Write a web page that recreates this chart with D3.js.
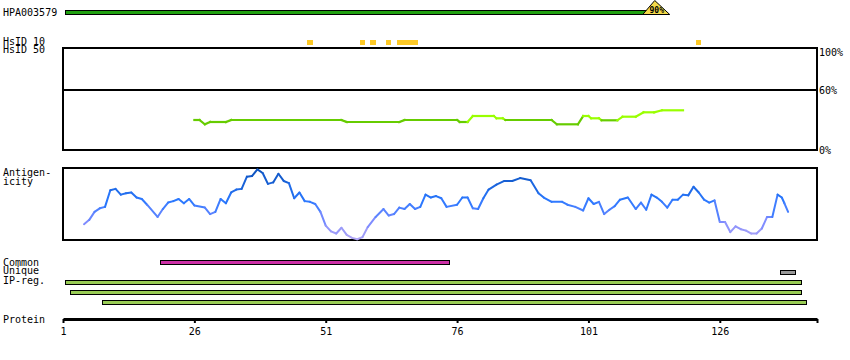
<!DOCTYPE html>
<html>
<head>
<meta charset="utf-8">
<script src="https://cdn.jsdelivr.net/npm/d3@7"></script>
<style>
  body { margin: 0; background: #fff; }
  svg text { font-family: "DejaVu Sans Mono", monospace; font-size: 10px; fill: #000; }
</style>
</head>
<body>
<div id="chart"></div>
<script>
// ---- data ----
const proteinLength = 144;
const antibodyName = 'HPA003579';
const antibodyRange = [2, 114];
const antibodyScore = '90%';

const hsid10 = [48, 58, 60, 63, 65, 66, 67, 68, 122];

// sequence identity (%) along the protein
const identityPos = [26, 27, 28, 29, 32, 33, 54, 55, 65, 66, 76, 76.5, 78, 79, 83, 83.5, 84.7, 85.2,
    94, 95, 99, 100, 101, 101.5, 103, 103.5, 106.5, 107.5, 110, 111.5, 113.5, 115, 119];
const identityVal = [30, 30, 25.7, 28, 28, 30, 30, 28, 28, 30, 30, 28, 28, 34, 34, 31.7, 31.7, 30,
    30, 25.7, 25.7, 34, 34, 31.7, 31.7, 29.7, 29.7, 33.3, 33.3, 37.7, 37.7, 39.7, 39.7];
const identityTicks = [100, 60, 0];

// antigenicity score (0..1)
const antigenPos = [5, 6, 7, 8, 9, 10, 11, 12, 13, 14, 15, 16, 17, 19, 20, 21, 22, 23, 24, 25, 26, 28, 29, 30,
    31, 32, 33, 34, 35, 36, 37, 38, 39, 40, 41, 42, 43, 44, 45, 46, 47, 48, 49, 50, 51, 52, 53, 54, 55,
    56, 57, 58, 59, 60.5, 62, 63, 64, 65, 66, 67, 68, 69, 70, 71, 72, 73, 74, 76, 77, 78, 79, 80, 81, 82,
    83.5, 85, 86.5, 88, 90, 91.5, 92.5, 94, 96, 97, 98.5, 100, 101, 102, 103, 104, 105, 106, 107, 108.5,
    110, 111, 112, 113, 114, 115, 116, 117, 118, 119, 120, 121, 122, 123, 124, 125, 126, 127, 128, 129,
    130, 131, 132, 133, 134, 135, 136, 137, 137.8, 138.3, 139];
const antigenVal = [0.22, 0.28, 0.39, 0.44, 0.46, 0.69, 0.71, 0.63, 0.65, 0.66, 0.59, 0.57, 0.49, 0.32, 0.43,
    0.52, 0.54, 0.57, 0.51, 0.57, 0.48, 0.45, 0.36, 0.39, 0.57, 0.51, 0.66, 0.70, 0.71, 0.88, 0.89, 0.98,
    0.93, 0.78, 0.80, 0.92, 0.82, 0.79, 0.58, 0.66, 0.54, 0.53, 0.50, 0.39, 0.20, 0.12, 0.09, 0.17, 0.07,
    0.03, 0.01, 0.04, 0.18, 0.32, 0.43, 0.34, 0.36, 0.45, 0.43, 0.50, 0.43, 0.46, 0.63, 0.59, 0.61, 0.58,
    0.46, 0.49, 0.59, 0.59, 0.44, 0.43, 0.58, 0.70, 0.77, 0.82, 0.82, 0.86, 0.83, 0.65, 0.59, 0.53, 0.53,
    0.49, 0.46, 0.41, 0.58, 0.50, 0.53, 0.36, 0.42, 0.47, 0.56, 0.59, 0.43, 0.52, 0.42, 0.63, 0.59, 0.53,
    0.45, 0.56, 0.56, 0.63, 0.62, 0.74, 0.66, 0.56, 0.52, 0.55, 0.25, 0.25, 0.11, 0.19, 0.15, 0.13, 0.09,
    0.09, 0.16, 0.32, 0.32, 0.63, 0.59, 0.51, 0.39];

const commonRegions = [[20, 74]];
const uniqueRegions = [[138, 140]];
const ipRegions = [[2, 141], [3, 141], [9, 142]];
const axisTicks = [1, 26, 51, 76, 101, 126];

// ---- layout ----
const width = 850, height = 360;
const svg = d3.select('#chart').append('svg')
    .attr('width', width)
    .attr('height', height);

const x = d3.scaleLinear().domain([1, proteinLength + 0.5]).range([63, 817]);
const x0 = x.range()[0], x1 = x.range()[1];

// residue block: from r-0.5 to r+0.5
function regionRect(g, r, y, h, fill, stroke) {
    g.append('rect')
        .attr('x', x(r[0] - 0.5))
        .attr('y', y)
        .attr('width', x(r[1] + 0.5) - x(r[0] - 0.5))
        .attr('height', h)
        .attr('fill', fill)
        .attr('stroke', stroke || 'none')
        .attr('shape-rendering', 'crispEdges');
}

function label(txt, px, py, anchor) {
    svg.append('text').attr('x', px).attr('y', py)
        .attr('text-anchor', anchor || 'start').text(txt);
}

// antibody bar + score marker
label(antibodyName, 3, 16);
const gAb = svg.append('g');
regionRect(gAb, antibodyRange, 10.5, 4, '#20a010', '#000');
const xc = x(antibodyRange[1]);
gAb.append('path')
    .attr('d', `M${xc - 2},0.5 L${xc + 13},14.5 L${xc - 14},14.5 Z`)
    .attr('fill', '#f4d94a')
    .attr('stroke', '#000');
gAb.append('text')
    .attr('x', xc).attr('y', 12.5)
    .attr('text-anchor', 'middle')
    .style('font-size', '8px')
    .style('font-weight', 'bold')
    .text(antibodyScore);

// HsID 10 hits
label('HsID 10', 3, 45);
label('HsID 50', 3, 53);
const gHs = svg.append('g');
hsid10.forEach(r => regionRect(gHs, [r, r], 40, 5, '#fdc926'));

// identity panel
const yId = d3.scaleLinear().domain([0, 100]).range([150, 50]);
const idTop = 48, idBottom = 150;
svg.append('rect')
    .attr('x', x0).attr('y', idTop)
    .attr('width', x1 - x0).attr('height', idBottom - idTop)
    .attr('fill', 'none').attr('stroke', '#000').attr('stroke-width', 2);
svg.append('line')
    .attr('x1', x0).attr('x2', x1)
    .attr('y1', yId(60)).attr('y2', yId(60))
    .attr('stroke', '#000').attr('stroke-width', 2);
identityTicks.forEach(t => {
    const ty = t === 100 ? idTop + 8 : yId(t) + 4;
    label(t + '%', 819, ty);
});

const gId = svg.append('g');
for (let i = 0; i < identityPos.length - 1; i++) {
    const avg = (identityVal[i] + identityVal[i + 1]) / 2;
    gId.append('line')
        .attr('x1', x(identityPos[i])).attr('y1', yId(identityVal[i]))
        .attr('x2', x(identityPos[i + 1])).attr('y2', yId(identityVal[i + 1]))
        .attr('stroke', avg >= 30.5 ? '#99ff00' : '#66cc00')
        .attr('stroke-width', 2.2)
        .attr('stroke-linecap', 'square');
}

// antigenicity panel
const yAg = d3.scaleLinear().domain([0, 1]).range([240, 168]);
label('Antigen-', 3, 176);
label('icity', 3, 185);
svg.append('rect')
    .attr('x', x0).attr('y', yAg(1))
    .attr('width', x1 - x0).attr('height', yAg(0) - yAg(1))
    .attr('fill', 'none').attr('stroke', '#000').attr('stroke-width', 2);

const agColor = d3.scaleLinear()
    .domain([0, 0.25, 0.55, 1])
    .range(['#b4a8f4', '#7f8cff', '#2a78ff', '#0a4fb8']);
const gAg = svg.append('g');
for (let i = 0; i < antigenPos.length - 1; i++) {
    const avg = (antigenVal[i] + antigenVal[i + 1]) / 2;
    gAg.append('line')
        .attr('x1', x(antigenPos[i])).attr('y1', yAg(antigenVal[i]))
        .attr('x2', x(antigenPos[i + 1])).attr('y2', yAg(antigenVal[i + 1]))
        .attr('stroke', agColor(avg))
        .attr('stroke-width', 2)
        .attr('stroke-linecap', 'round');
}

// region rows
label('Common', 3, 266);
label('Unique', 3, 274);
label('IP-reg.', 3, 284);
const gReg = svg.append('g');
commonRegions.forEach(r => regionRect(gReg, r, 260.5, 4, '#cc2fa6', '#000'));
uniqueRegions.forEach(r => regionRect(gReg, r, 270.5, 4, '#999999', '#000'));
ipRegions.forEach((r, i) => regionRect(gReg, r, 280.5 + i * 10, 4, '#99cc55', '#000'));

// protein axis
label('Protein', 3, 323);
const axis = d3.axisBottom(x)
    .tickValues(axisTicks.concat([proteinLength + 0.5]))
    .tickFormat(d => axisTicks.includes(d) ? d : '')
    .tickSize(4)
    .tickSizeOuter(0)
    .tickPadding(5);
const gAxis = svg.append('g')
    .attr('transform', 'translate(0,319)')
    .call(axis)
    .attr('font-family', '"DejaVu Sans Mono", monospace');
gAxis.select('.domain').attr('stroke-width', 3);
gAxis.selectAll('.tick line').attr('stroke-width', 2);
gAxis.selectAll('.tick text').style('font-size', '10px');
</script>
</body>
</html>
